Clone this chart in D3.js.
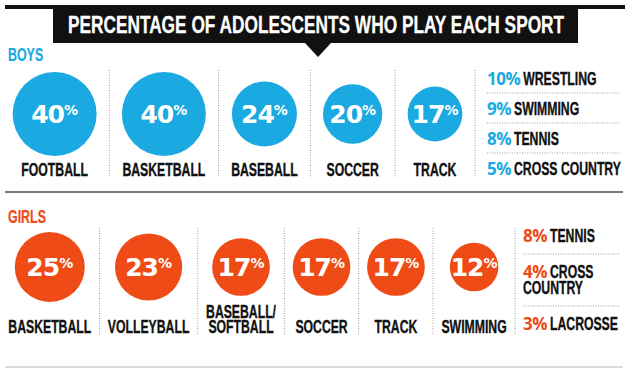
<!DOCTYPE html>
<html><head><meta charset="utf-8">
<script src="https://cdn.jsdelivr.net/npm/d3@7"></script>
<style>html,body{margin:0;padding:0;background:#fff}svg{display:block}</style>
</head><body>
<svg id="chart" width="630" height="371"></svg>
<script>
// ---------- DATA ----------
const titleText = "PERCENTAGE OF ADOLESCENTS WHO PLAY EACH SPORT";
const boysCategories = ["FOOTBALL", "BASKETBALL", "BASEBALL", "SOCCER", "TRACK"];
const boysValues = [40, 40, 24, 20, 17];
const boysOtherSports = ["WRESTLING", "SWIMMING", "TENNIS", "CROSS COUNTRY"];
const boysOtherValues = [10, 9, 8, 5];
const girlsCategories = ["BASKETBALL", "VOLLEYBALL", "BASEBALL/\nSOFTBALL", "SOCCER", "TRACK", "SWIMMING"];
const girlsValues = [25, 23, 17, 17, 17, 12];
const girlsOtherSports = ["TENNIS", "CROSS\nCOUNTRY", "LACROSSE"];
const girlsOtherValues = [8, 4, 3];

// ---------- STYLE ----------
const BLUE = "#1aa9e0", ORANGE = "#ee4b16", INK = "#111";
const COND = "'Liberation Sans', Arial, sans-serif";
const ROUND = "'DejaVu Sans', sans-serif";
const LISTPCT = "'Open Sans', sans-serif";
const SQ = 0.68;

const svg = d3.select("#chart");

function condText(parent, lines, x, y, f, opts) {
  const t = parent.append("text").attr("x", 0).attr("y", 0)
    .attr("font-family", COND).attr("font-weight", "bold")
    .attr("font-size", opts.size || 18)
    .attr("fill", opts.fill || INK)
    .attr("stroke", opts.fill || INK).attr("stroke-width", opts.sw == null ? 0.35 : opts.sw)
    .attr("text-anchor", opts.anchor || "start")
    .attr("transform", `translate(${x},${y}) scale(${f},1)`);
  let w = 0;
  lines.forEach((ln, k) => {
    const ts = t.append("tspan").attr("x", 0).attr("dy", k === 0 ? 0 : (opts.lh || 15)).text(ln);
    w = Math.max(w, ts.node().getComputedTextLength() * f);
  });
  t.node().__w = w;
  return t;
}

// ---------- TITLE ----------
svg.append("rect").attr("x", 5).attr("y", 5).attr("width", 620).attr("height", 4).attr("fill", INK);
svg.append("path").attr("d", "M53,5H578V43H331L318,57L305,43H53Z").attr("fill", INK);
condText(svg, [titleText], 316, 33, 0.72, { size: 24, fill: "#fff", anchor: "middle", sw: 0.3 });

svg.append("line").attr("x1", 5).attr("x2", 623).attr("y1", 192).attr("y2", 192)
  .attr("stroke", "#7a7a7a").attr("stroke-width", 2);
svg.append("line").attr("x1", 5).attr("x2", 623).attr("y1", 367).attr("y2", 367)
  .attr("stroke", "#d0d0d0").attr("stroke-width", 1.5);

// ---------- SECTION ----------
function drawSection(o) {
  const g = svg.append("g");
  condText(g, [o.title], 8, o.titleBaseline, 0.69, { fill: o.color, sw: 0.2 });

  const r = d3.scaleSqrt().domain([0, o.maxVal]).range([0, o.maxR]);
  const items = o.cats.map((c, i) => ({ name: c, lines: c.split("\n"), v: o.vals[i] }));

  const lab = g.selectAll("g.lab").data(items).join("g").attr("class", "lab");
  lab.each(function (d) {
    const n = d.lines.length;
    const t = condText(d3.select(this), d.lines, 0, o.labelBaseline - (n - 1) * 15, SQ, { anchor: "middle" });
    d.contentW = Math.max(2 * r(d.v), t.node().__w);
  });

  const total = d3.sum(items, d => d.contentW);
  const gap = (o.colRight - total) / items.length;
  let acc = 0;
  const centers = [], edges = [];
  items.forEach(d => {
    const cw = d.contentW + gap;
    centers.push(acc + cw / 2);
    acc += cw;
    edges.push(acc);
  });
  const x = d3.scaleOrdinal().domain(o.cats).range(centers);
  lab.attr("transform", d => `translate(${x(d.name)},0)`);

  g.selectAll("line.div").data(edges).join("line").attr("class", "div")
    .attr("x1", d => d).attr("x2", d => d)
    .attr("y1", o.divTop).attr("y2", o.divBottom)
    .attr("stroke", "#9a9a9a").attr("stroke-width", 1).attr("stroke-dasharray", "1,1.5");

  g.selectAll("circle.b").data(items).join("circle").attr("class", "b")
    .attr("cx", d => x(d.name)).attr("cy", o.cy).attr("r", d => r(d.v))
    .attr("fill", o.color);

  const pt = g.selectAll("text.pct").data(items).join("text").attr("class", "pct")
    .attr("x", d => x(d.name)).attr("y", o.cy + 9)
    .attr("text-anchor", "middle").attr("fill", "#fff")
    .attr("font-family", ROUND).attr("font-weight", "bold");
  pt.append("tspan").attr("font-size", 25).attr("letter-spacing", -1).text(d => d.v);
  pt.append("tspan").attr("font-size", 14).attr("dy", -8).text("%");

  // side list: one text per row; percentage tspan stretched back to natural aspect
  const lx = o.colRight + o.listPad;
  let top = o.listTop;
  const rows = o.others.map((s, i) => ({ lines: s.split("\n"), v: o.otherVals[i] }));
  rows.forEach((row, i) => {
    const b1 = top + 13;
    const t = g.append("text").attr("x", 0).attr("y", 0)
      .attr("transform", `translate(${lx},${b1}) scale(${SQ},1)`)
      .attr("font-family", COND).attr("font-weight", "bold").attr("font-size", 18)
      .attr("fill", INK).attr("stroke", INK).attr("stroke-width", 0.35);
    const p = t.append("tspan").attr("x", 0)
      .attr("font-family", LISTPCT).attr("font-weight", 700).attr("font-size", 17)
      .attr("letter-spacing", -0.5).attr("stroke", "none")
      .attr("fill", o.color).text(row.v + "%");
    const pw = p.node().getComputedTextLength();
    p.attr("textLength", pw / SQ).attr("lengthAdjust", "spacingAndGlyphs");
    row.lines.forEach((ln, k) => {
      if (k === 0) t.append("tspan").attr("x", (pw + 3) / SQ).text(ln);
      else t.append("tspan").attr("x", 0).attr("dy", 16).text(ln);
    });
    const lastB = b1 + (row.lines.length - 1) * 16;
    if (i < rows.length - 1) {
      const sy = lastB + o.sepGap;
      g.append("line").attr("x1", lx).attr("x2", 620).attr("y1", sy).attr("y2", sy)
        .attr("stroke", "#9a9a9a").attr("stroke-width", 1).attr("stroke-dasharray", "1,1.5");
      top = sy + o.nextGap;
    }
  });
}

drawSection({
  title: "BOYS", titleBaseline: 61, color: BLUE,
  cats: boysCategories, vals: boysValues, maxVal: 40, maxR: 42,
  cy: 114, labelBaseline: 176, colRight: 475, divTop: 70, divBottom: 178,
  others: boysOtherSports, otherVals: boysOtherValues,
  listPad: 12, listTop: 72, sepGap: 8, nextGap: 9
});
drawSection({
  title: "GIRLS", titleBaseline: 223, color: ORANGE,
  cats: girlsCategories, vals: girlsValues, maxVal: 25, maxR: 35,
  cy: 267, labelBaseline: 333, colRight: 515, divTop: 228, divBottom: 334,
  others: girlsOtherSports, otherVals: girlsOtherValues,
  listPad: 8, listTop: 229, sepGap: 12, nextGap: 11
});
</script>
</body></html>
